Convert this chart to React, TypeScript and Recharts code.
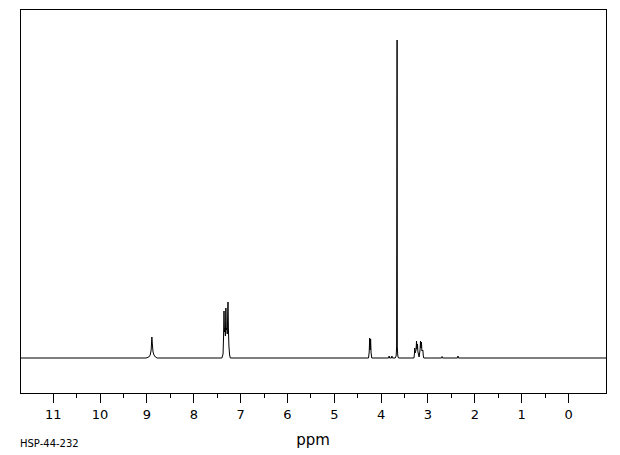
import React from "react";
import { LineChart, Line, XAxis, YAxis, ReferenceArea } from "recharts";

// chemical shift (ppm), left to right, and signal height
const ppm = [
  11.71, 9.02, 8.96, 8.93, 8.91, 8.895, 8.885, 8.87, 8.85, 8.82, 8.78,
  7.4, 7.375, 7.365, 7.355, 7.345, 7.335, 7.325, 7.315, 7.305, 7.295, 7.285, 7.27, 7.26, 7.25, 7.235, 7.22,
  4.27, 4.255, 4.245, 4.235, 4.225, 4.215, 4.2,
  3.84, 3.83, 3.82, 3.78, 3.77, 3.76,
  3.7, 3.68, 3.67, 3.66, 3.655, 3.645, 3.63,
  3.3, 3.29, 3.283, 3.275, 3.255, 3.245, 3.235, 3.225, 3.215, 3.19, 3.17, 3.16, 3.15, 3.14, 3.13, 3.11, 3.1, 3.09,
  2.71, 2.7, 2.69, 2.37, 2.36, 2.35,
  -0.8,
];
const intensity = [
  0, 0, 1, 3, 8, 21, 14, 6, 3, 1, 0,
  0, 4, 20, 47, 26, 30, 22, 50, 28, 30, 24, 56, 28, 12, 3, 0,
  0, 6, 20, 8, 19, 5, 0,
  0, 2, 0, 0, 2, 0,
  0, 2, 11, 318, 11, 2, 0,
  0, 4, 10, 5, 8, 17, 9, 14, 6, 1, 8, 17, 10, 16, 7, 8, 2, 0,
  0, 1.5, 0, 0, 2, 0,
  0,
];

const ticks = [11, 10.5, 10, 9.5, 9, 8.5, 8, 7.5, 7, 6.5, 6, 5.5, 5, 4.5, 4, 3.5, 3, 2.5, 2, 1.5, 1, 0.5, 0];
const xDomain = [-0.8, 11.71];
const yDomain = [-35, 349];

const data = ppm.map((p, i) => ({ ppm: p, v: intensity[i] }));

const font = "DejaVu Sans, sans-serif";

function PpmTick(props: any) {
  const { x, y, payload } = props;
  const v = payload.value as number;
  const major = Number.isInteger(v);
  return (
    <g>
      <line x1={x} x2={x} y1={y} y2={y + (major ? 10 : 5)} stroke="#000" shapeRendering="crispEdges" />
      {major && (
        <text x={x} y={y + 26} textAnchor="middle" fontSize={13} fontFamily={font} fill="#000">
          {v}
        </text>
      )}
    </g>
  );
}

function AxisLabel(props: any) {
  const vb = props.viewBox;
  return (
    <g>
      <text x={vb.x + vb.width / 2} y={vb.y + 52} textAnchor="middle" fontSize={15} fontFamily={font} fill="#000">
        ppm
      </text>
      <text x={20} y={447} fontSize={10} fontFamily={font} fill="#000">
        HSP-44-232
      </text>
    </g>
  );
}

export default function App() {
  return (
    <div style={{ position: "absolute", left: 0, top: 0, width: 620, height: 455, background: "#fff" }}>
      <LineChart width={620} height={455} data={data} margin={{ top: 9, right: 14, bottom: 22, left: 20 }}>
        <XAxis
          dataKey="ppm"
          type="number"
          domain={xDomain}
          reversed
          allowDataOverflow
          ticks={ticks}
          interval={0}
          axisLine={false}
          tickLine={false}
          tickSize={0}
          tickMargin={0}
          height={40}
          tick={<PpmTick />}
          label={<AxisLabel />}
        />
        <YAxis type="number" domain={yDomain} hide allowDataOverflow />
        <ReferenceArea
          x1={xDomain[0]}
          x2={xDomain[1]}
          y1={yDomain[0]}
          y2={yDomain[1]}
          fill="none"
          stroke="#000"
          strokeWidth={1}
          shapeRendering="crispEdges"
        />
        <Line
          type="linear"
          dataKey="v"
          stroke="#000"
          strokeWidth={1}
          dot={false}
          isAnimationActive={false}
        />
      </LineChart>
    </div>
  );
}
